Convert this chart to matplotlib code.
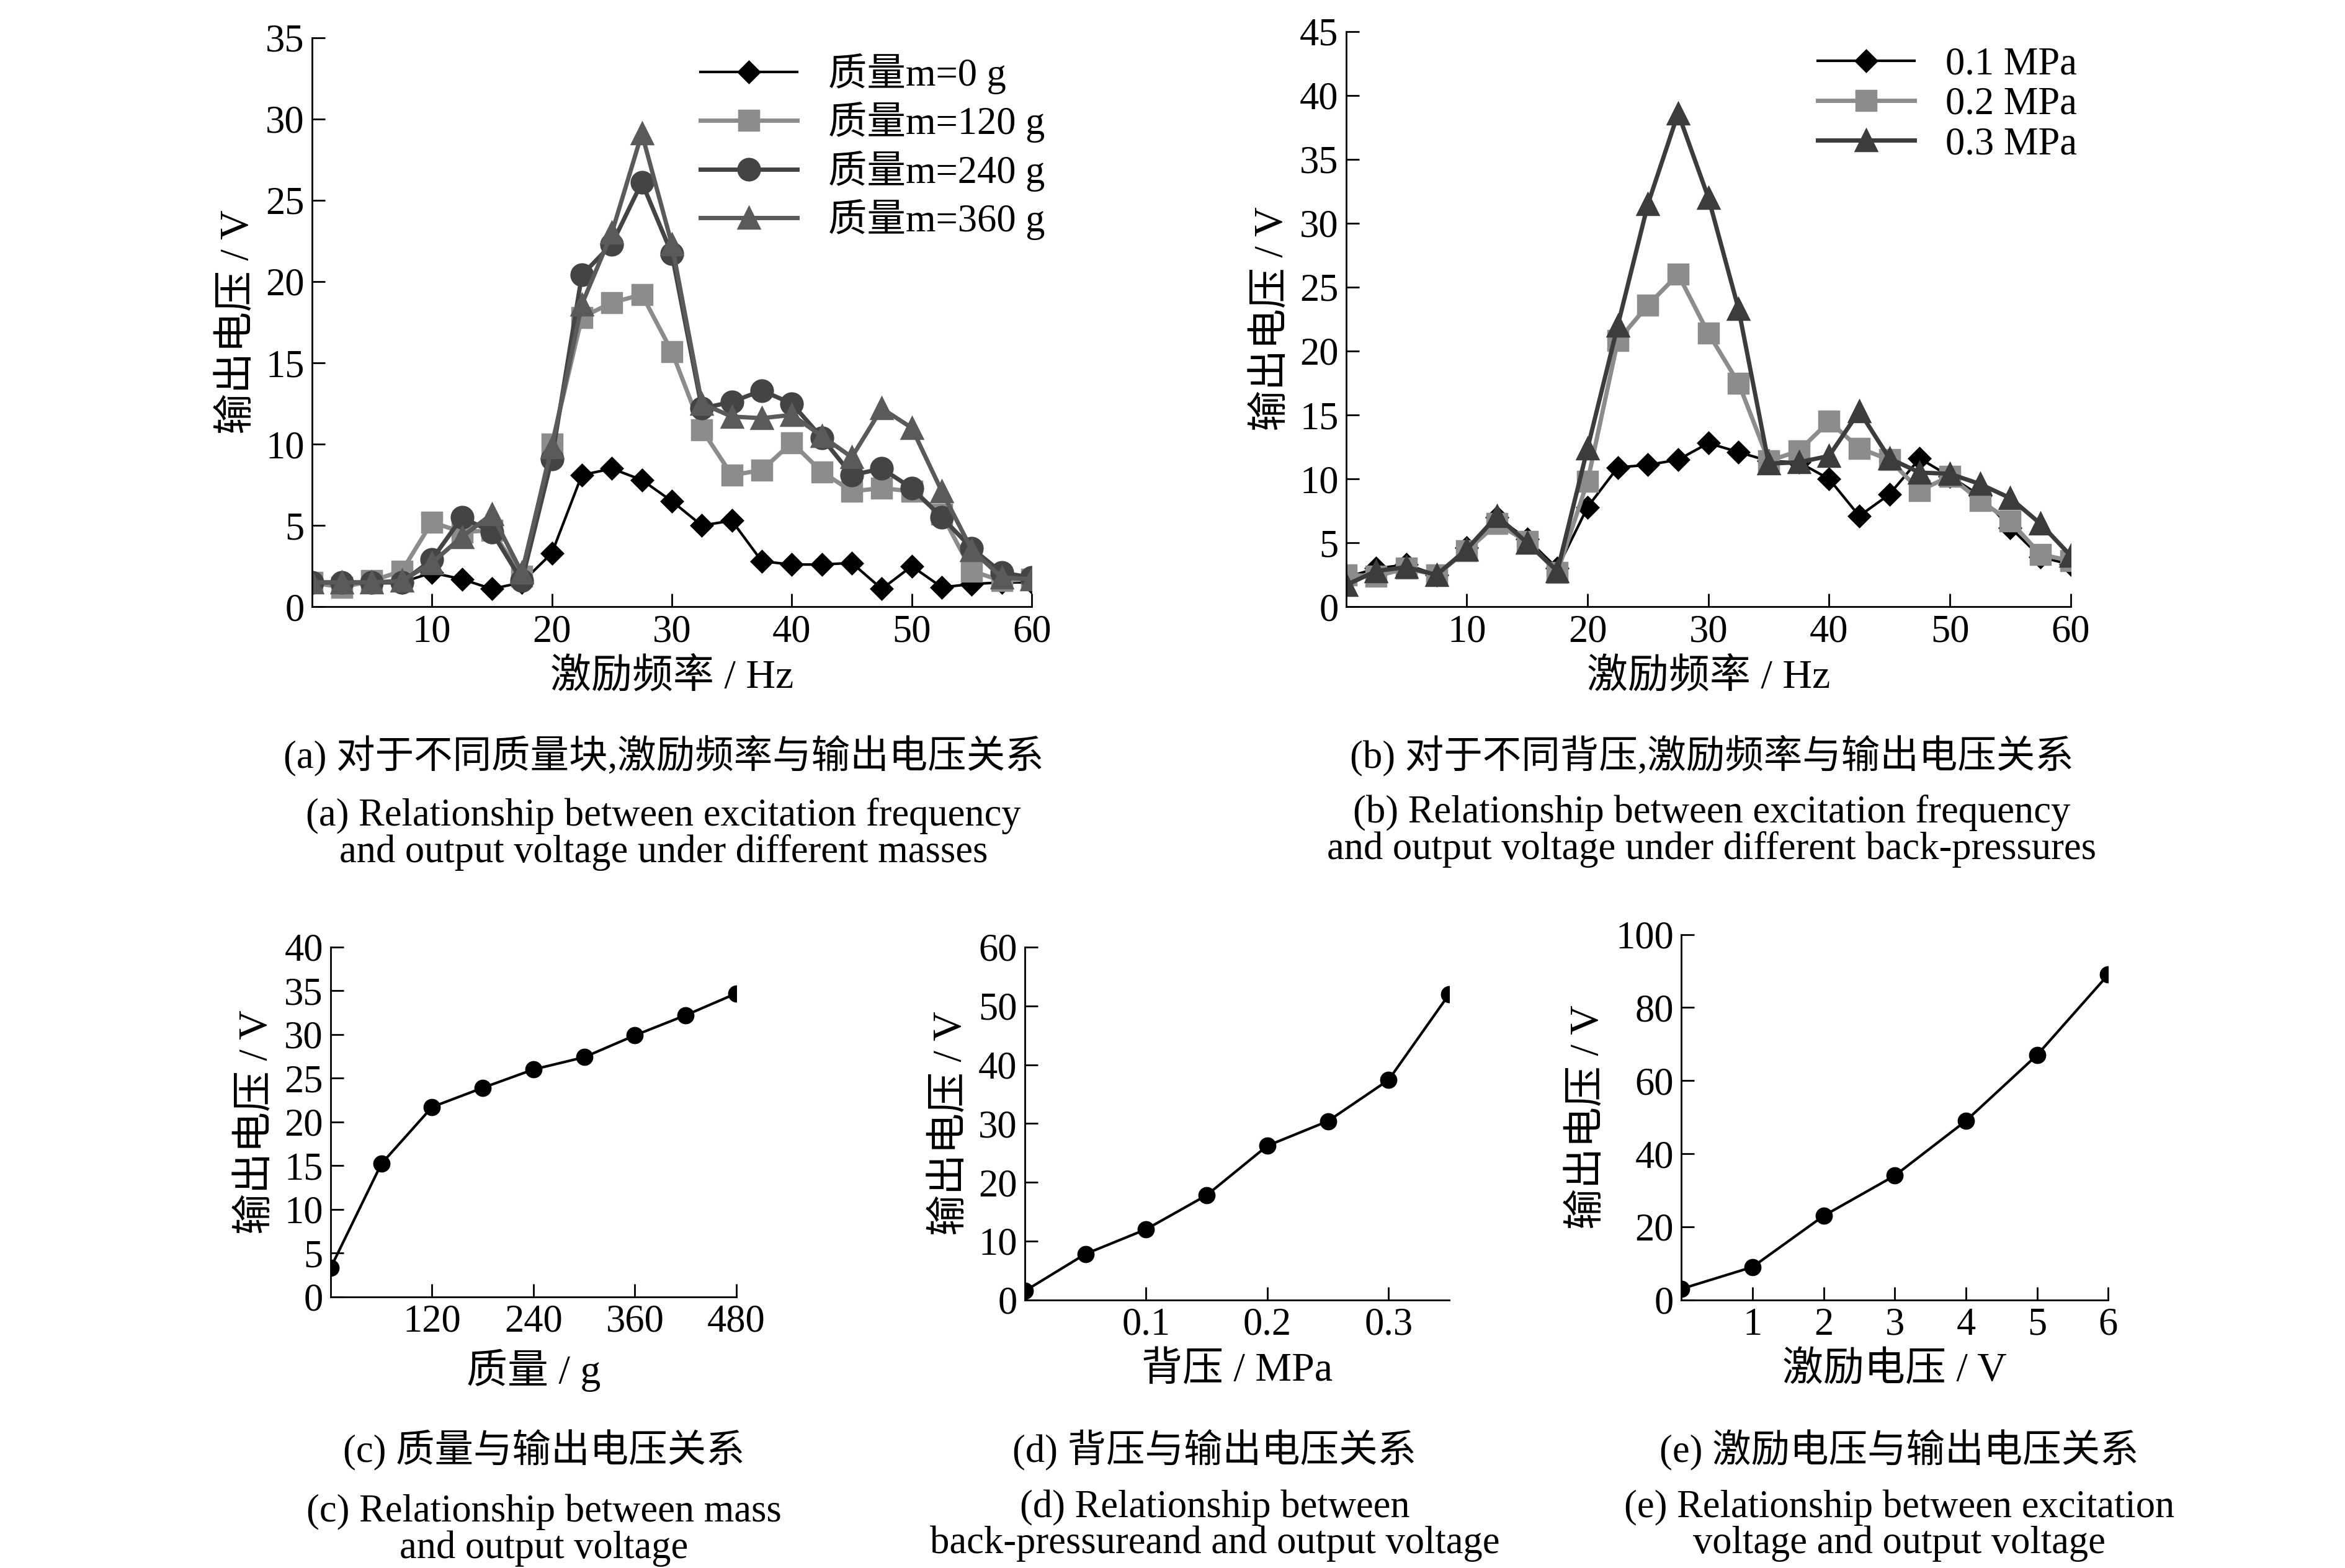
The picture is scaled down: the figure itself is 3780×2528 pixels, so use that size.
import matplotlib
matplotlib.use("Agg")
import matplotlib.pyplot as plt

plt.rcParams['font.family'] = ['Liberation Serif', 'Noto Sans CJK SC']
FS = 18

freq = [0, 2.5, 5, 7.5, 10, 12.5, 15, 17.5, 20, 22.5, 25, 27.5, 30, 32.5, 35, 37.5, 40, 42.5, 45, 47.5, 50, 52.5, 55, 57.5, 60]
m0 = [1.5,1.5,1.5,1.5,2.1,1.7,1.1,1.5,3.3,8.1,8.5,7.8,6.5,5.0,5.3,2.8,2.6,2.6,2.7,1.1,2.5,1.2,1.4,1.5,1.5]
m120 = [1.5,1.2,1.6,2.2,5.2,4.6,4.7,1.9,10.0,17.8,18.7,19.2,15.7,10.9,8.1,8.4,10.1,8.3,7.1,7.3,7.1,5.7,2.2,1.6,1.7]
m240 = [1.5,1.5,1.5,1.5,2.9,5.5,4.6,1.6,9.1,20.4,22.3,26.1,21.7,12.2,12.6,13.3,12.5,10.4,8.1,8.5,7.3,5.5,3.6,2.1,1.8]
m360 = [1.5,1.5,1.5,1.6,2.7,4.3,5.7,2.1,9.8,18.6,23.0,29.1,22.3,12.5,11.7,11.6,11.8,10.5,9.2,12.2,11.0,7.1,3.5,1.8,1.7]
p01 = [2.3,3.0,3.3,2.5,4.6,7.0,5.3,3.0,7.8,10.9,11.1,11.5,12.8,12.1,11.4,11.3,10.0,7.1,8.8,11.6,10.2,8.7,6.2,3.9,3.3]
p02 = [2.5,2.4,3.0,2.5,4.4,6.5,5.1,2.7,9.8,20.8,23.6,26.0,21.4,17.5,11.4,12.2,14.5,12.4,11.5,9.1,10.2,8.3,6.7,4.1,3.6]
p03 = [1.7,2.8,3.1,2.5,4.5,7.1,5.0,2.8,12.4,22.0,31.5,38.6,32.0,23.3,11.2,11.3,11.8,15.3,11.6,10.5,10.4,9.6,8.5,6.5,4.0]
mass = [0, 60, 120, 180, 240, 300, 360, 420, 480]
v_mass = [3.3,15.2,21.7,23.9,26.0,27.4,29.9,32.2,34.7]
press = [0, 0.05, 0.1, 0.15, 0.2, 0.25, 0.3, 0.35]
v_press = [1.5,7.8,12.0,17.8,26.2,30.4,37.4,52.0]
exc = [0, 1, 2, 3, 4, 5, 6]
v_exc = [3,9,23,34,49,67,89]

fig = plt.figure(figsize=(15.12, 10.112), dpi=250)

def style(ax):
    for s in ['top', 'right']:
        ax.spines[s].set_visible(False)
    ax.tick_params(direction='in', labelsize=FS, length=6)

styles = [('black', 'D', 1.2, 7), ('#8c8c8c', 's', 2, 9), ('#444444', 'o', 2, 10), ('#5a5a5a', '^', 2, 10)]

ax = fig.add_axes([0.133, 0.613, 0.307, 0.363])
labels = ['质量m=0 g', '质量m=120 g', '质量m=240 g', '质量m=360 g']
for y, (c, mk, lw, ms), lb in zip([m0, m120, m240, m360], styles, labels):
    ax.plot(freq, y, color=c, marker=mk, lw=lw, ms=ms, label=lb)
ax.set_xlim(0, 60); ax.set_ylim(0, 35)
ax.set_xticks([10, 20, 30, 40, 50, 60]); ax.set_yticks([0, 5, 10, 15, 20, 25, 30, 35])
ax.set_xlabel('激励频率 / Hz', fontsize=FS + 1); ax.set_ylabel('输出电压 / V', fontsize=FS + 1)
ax.legend(loc='upper right', frameon=False, fontsize=FS, handlelength=2.5, borderaxespad=0,
          labelspacing=0.2, bbox_to_anchor=(1.04, 1.0))
style(ax)

ax = fig.add_axes([0.574, 0.613, 0.309, 0.367])
for y, (c, mk, lw, ms), lb in zip([p01, p02, p03], [styles[0], styles[1], styles[3]], ['0.1 MPa', '0.2 MPa', '0.3 MPa']):
    c2 = '#3c3c3c' if mk == '^' else c
    ax.plot(freq, y, color=c2, marker=mk, lw=lw, ms=ms, label=lb)
ax.set_xlim(0, 60); ax.set_ylim(0, 45)
ax.set_xticks([10, 20, 30, 40, 50, 60]); ax.set_yticks(range(0, 46, 5))
ax.set_xlabel('激励频率 / Hz', fontsize=FS + 1); ax.set_ylabel('输出电压 / V', fontsize=FS + 1)
ax.legend(loc='upper right', frameon=False, fontsize=FS, handlelength=2.5, borderaxespad=0,
          labelspacing=0.1, bbox_to_anchor=(1.03, 1.0))
style(ax)

ax = fig.add_axes([0.141, 0.173, 0.173, 0.223])
ax.plot(mass, v_mass, color='black', marker='o', ms=7, lw=1.2)
ax.set_xlim(0, 480); ax.set_ylim(0, 40)
ax.set_xticks([120, 240, 360, 480]); ax.set_yticks(range(0, 41, 5))
ax.set_xlabel('质量 / g', fontsize=FS + 1); ax.set_ylabel('输出电压 / V', fontsize=FS + 1)
style(ax)

ax = fig.add_axes([0.437, 0.171, 0.181, 0.225])
ax.plot(press, v_press, color='black', marker='o', ms=7, lw=1.2)
ax.set_xlim(0, 0.35); ax.set_ylim(0, 60)
ax.set_xticks([0.1, 0.2, 0.3]); ax.set_yticks(range(0, 61, 10))
ax.set_xlabel('背压 / MPa', fontsize=FS + 1); ax.set_ylabel('输出电压 / V', fontsize=FS + 1)
style(ax)

ax = fig.add_axes([0.717, 0.171, 0.182, 0.233])
ax.plot(exc, v_exc, color='black', marker='o', ms=7, lw=1.2)
ax.set_xlim(0, 6); ax.set_ylim(0, 100)
ax.set_xticks([1, 2, 3, 4, 5, 6]); ax.set_yticks(range(0, 101, 20))
ax.set_xlabel('激励电压 / V', fontsize=FS + 1); ax.set_ylabel('输出电压 / V', fontsize=FS + 1)
style(ax)

caps = [
    (0.283, 0.518, '(a) 对于不同质量块,激励频率与输出电压关系'),
    (0.283, 0.468, '(a) Relationship between excitation frequency\nand output voltage under different masses'),
    (0.73, 0.518, '(b) 对于不同背压,激励频率与输出电压关系'),
    (0.73, 0.470, '(b) Relationship between excitation frequency\nand output voltage under different back-pressures'),
    (0.232, 0.075, '(c) 质量与输出电压关系'),
    (0.232, 0.024, '(c) Relationship between mass\nand output voltage'),
    (0.518, 0.075, '(d) 背压与输出电压关系'),
    (0.518, 0.027, '(d) Relationship between\nback-pressureand and output voltage'),
    (0.81, 0.075, '(e) 激励电压与输出电压关系'),
    (0.81, 0.027, '(e) Relationship between excitation\nvoltage and output voltage'),
]
for x, y, t in caps:
    fig.text(x, y, t, ha='center', va='center', fontsize=FS, linespacing=1.0)

fig.savefig('out.png', dpi=250)
